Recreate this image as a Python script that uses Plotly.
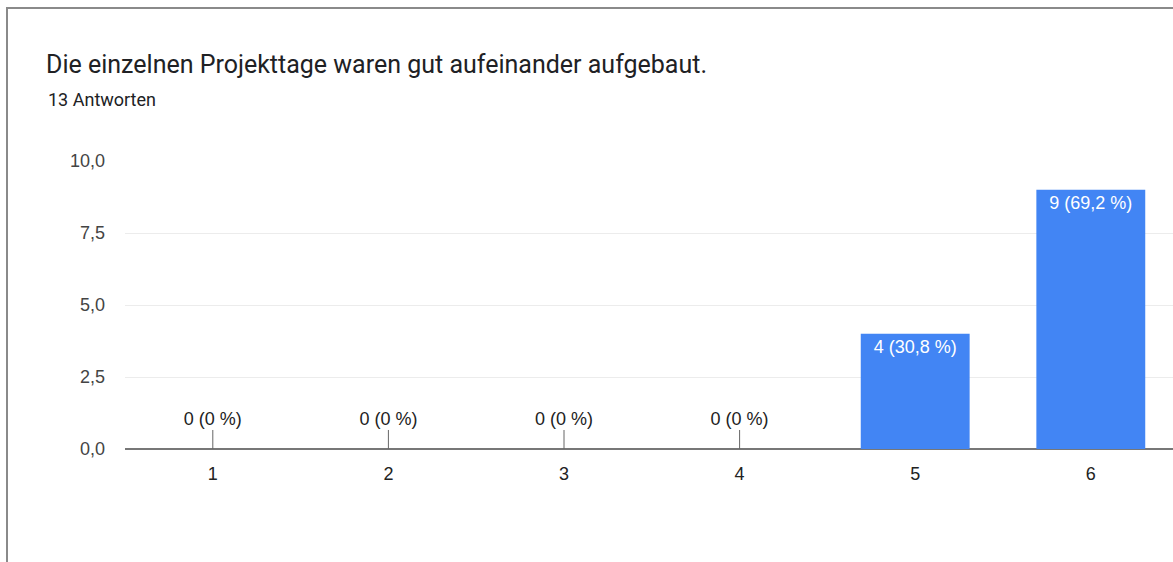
import plotly.graph_objects as go

categories = [1, 2, 3, 4, 5, 6]
counts = [0, 0, 0, 0, 4, 9]
percent_labels = ["0 %", "0 %", "0 %", "0 %", "30,8 %", "69,2 %"]
ytick_vals = [0, 2.5, 5, 7.5, 10]
ytick_text = ["0,0", "2,5", "5,0", "7,5", "10,0"]
title_text = "Die einzelnen Projekttage waren gut aufeinander aufgebaut."
subtitle_text = "13 Antworten"

BLUE = "#4285F4"
W, H = 1173, 562
L, T, B = 125, 161, 113
plot_w = W - L
plot_h = H - T - B
CAT_PX = 175.6

CHART_FONT = "Liberation Sans"
labels = [f"{c} ({p})" for c, p in zip(counts, percent_labels)]

fig = go.Figure()

nz = [i for i, c in enumerate(counts) if c > 0]
fig.add_trace(go.Bar(
    x=[categories[i] for i in nz],
    y=[counts[i] for i in nz],
    width=0.62,
    marker=dict(color=BLUE, line=dict(width=0)),
    text=[labels[i] for i in nz],
    textposition="inside",
    insidetextanchor="end",
    textangle=0,
    constraintext="none",
    textfont=dict(family=CHART_FONT, size=18, color="white"),
    hoverinfo="skip",
    showlegend=False,
))

z = [i for i, c in enumerate(counts) if c == 0]
sx, sy = [], []
for i in z:
    sx += [categories[i], categories[i], None]
    sy += [counts[i], 0.66, None]
fig.add_trace(go.Scatter(
    x=sx, y=sy, mode="lines",
    line=dict(color="#666666", width=1),
    hoverinfo="skip", showlegend=False,
))
fig.add_trace(go.Scatter(
    x=[categories[i] for i in z],
    y=[1.0 for i in z],
    mode="text",
    text=[labels[i] for i in z],
    textposition="middle center",
    textfont=dict(family=CHART_FONT, size=18, color="#222222"),
    hoverinfo="skip", showlegend=False,
))

fig.update_layout(
    width=W, height=H,
    margin=dict(l=L, r=0, t=T, b=B, pad=0),
    plot_bgcolor="white", paper_bgcolor="white",
    font=dict(family="Roboto", color="#222222"),
    title=dict(
        text=title_text,
        font=dict(family="Roboto", size=25, color="#202124"),
        x=46 / W, xanchor="left", xref="container",
        y=1 - 64 / H, yanchor="middle", yref="container",
    ),
    annotations=[dict(
        text=subtitle_text, xref="paper", yref="paper",
        x=(46 - L) / plot_w, y=(H - B - 99) / plot_h,
        xanchor="left", yanchor="middle", showarrow=False,
        font=dict(family="Roboto", size=18, color="#202124"),
    )],
    shapes=[dict(
        type="rect", xref="paper", yref="paper",
        x0=(7 - L) / plot_w, x1=1.05,
        y0=-1.0, y1=(H - B - 8) / plot_h,
        line=dict(color="#8a8a8a", width=2), fillcolor="rgba(0,0,0,0)",
        layer="below",
    )],
)

fig.update_xaxes(
    range=[0.5, 0.5 + plot_w / CAT_PX],
    tickvals=categories, ticktext=[str(c) for c in categories],
    showgrid=False, zeroline=False,
    showline=False, ticks="",
    tickfont=dict(family=CHART_FONT, size=18, color="#222222"),
    ticklabelstandoff=12,
)
fig.update_yaxes(
    range=[0, 10],
    tickvals=ytick_vals, ticktext=ytick_text,
    showgrid=True, gridcolor="#ececec", gridwidth=1,
    zeroline=True, zerolinecolor="#777777", zerolinewidth=2,
    showline=False, ticks="",
    tickfont=dict(family=CHART_FONT, size=18, color="#444444"),
    ticklabelstandoff=19,
)

fig.write_html(
    "out.html",
    config={"displayModeBar": False},
    post_script="document.body.style.margin='0';",
)
